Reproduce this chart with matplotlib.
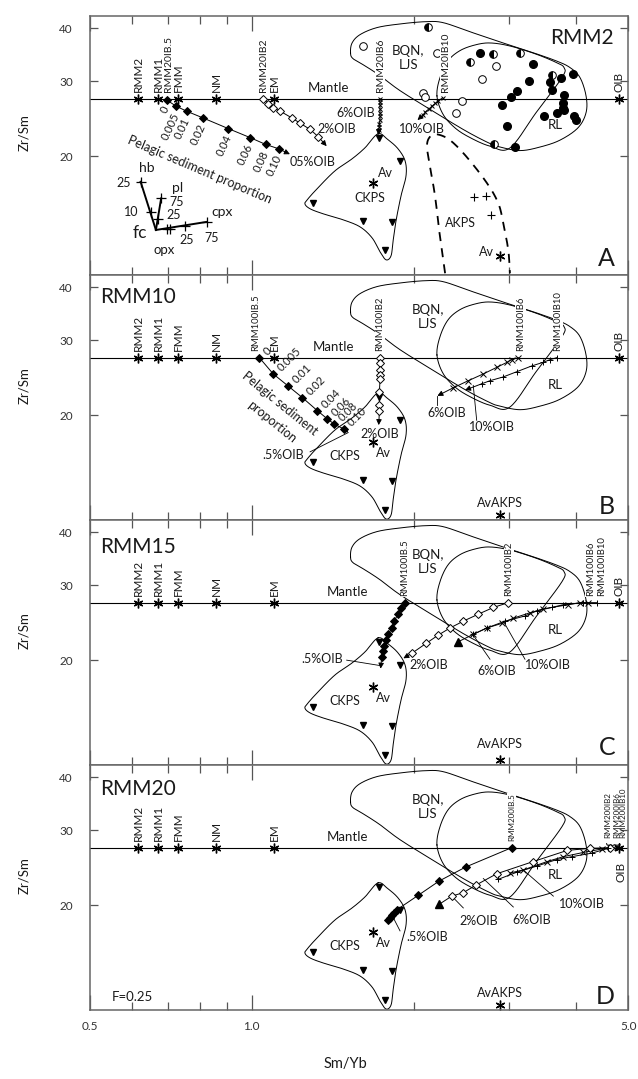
import matplotlib
matplotlib.use("Agg")
import numpy as np
import matplotlib.pyplot as plt
from matplotlib.ticker import FixedLocator, FixedFormatter, NullFormatter, NullLocator

plt.rcParams['font.family'] = ['Lato', 'DejaVu Sans']
INK = '#1a1a1a'

# ---------------- reference compositions ----------------
MANTLE_ZRSM = 27.3
mantle_names = ['RMM2', 'RMM1', 'FMM', 'NM', 'EM']
mantle_smyb = [0.615, 0.67, 0.73, 0.86, 1.10]
oib_smyb = 4.8

# ---------------- field outlines (Sm/Yb, Zr/Sm) ----------------
bqn_field_smyb = [1.525, 1.535, 1.588, 1.707, 1.884, 2.096, 2.263, 2.541, 2.888, 3.283, 3.669,
                  3.894, 4.064, 4.171, 4.171, 4.029, 3.732, 3.426, 3.146, 2.888, 2.767, 2.497,
                  2.169, 1.884, 1.730, 1.622, 1.541]
bqn_field_zrsm = [35.0, 36.9, 38.6, 40.1, 40.9, 41.4, 41.2, 39.2, 37.1, 35.2, 33.5,
                  32.3, 30.6, 27.7, 25.3, 23.3, 21.8, 21.0, 20.6, 21.0, 21.4, 22.9,
                  25.5, 28.5, 30.9, 32.6, 33.9]
rl_field_smyb = [2.206, 2.235, 2.313, 2.434, 2.595, 2.767, 3.013, 3.355, 3.653, 3.796, 3.764,
                 3.369, 3.013, 2.767, 2.541, 2.382, 2.263]
rl_field_zrsm = [27.7, 30.6, 33.5, 35.4, 36.5, 36.9, 36.3, 34.8, 33.3, 32.3, 30.6,
                 25.3, 20.9, 21.1, 22.1, 23.3, 25.1]
ckps_field_smyb = [1.715, 1.622, 1.535, 1.427, 1.327, 1.272, 1.255, 1.283, 1.356, 1.477, 1.588,
                   1.672, 1.730, 1.775, 1.813, 1.829, 1.852, 1.892, 1.933, 1.925, 1.868, 1.790]
ckps_field_zrsm = [22.56, 20.91, 19.70, 18.46, 16.84, 15.87, 15.44, 15.03, 14.63, 14.16, 13.63,
                   12.84, 11.90, 11.40, 11.65, 12.63, 14.08, 16.12, 17.97, 19.49, 20.80, 21.84]
akps_field_smyb = [2.284, 2.235, 2.188, 2.141, 2.114, 2.141, 2.206, 2.332, 2.505, 2.729, 2.866,
                   2.929, 2.992, 3.013]
akps_field_zrsm = [10.6, 12.9, 16.1, 18.9, 21.1, 22.2, 22.5, 21.8, 19.9, 17.3, 15.5,
                   13.9, 12.0, 10.6]

# ---------------- sample groups ----------------
ckps_smyb = [1.72, 1.88, 1.61, 1.82, 1.765, 1.30]
ckps_zrsm = [22.1, 19.5, 14.1, 14.0, 12.0, 15.5]
ckps_av_smyb, ckps_av_zrsm = 1.68, 17.25
akps_smyb = [2.58, 2.72, 2.775]
akps_zrsm = [16.0, 16.1, 14.5]
akps_av_smyb, akps_av_zrsm = 2.89, 11.65

rl_filled_smyb = [2.65, 3.32, 3.27, 3.10, 3.03, 2.91, 2.97, 3.08, 3.49, 3.57, 3.74, 3.94, 3.60,
                  3.80, 3.78, 3.78, 3.68, 3.80, 3.96, 4.00]
rl_filled_zrsm = [35.0, 33.0, 30.0, 28.4, 27.6, 26.4, 23.5, 21.0, 24.8, 29.8, 30.5, 31.2, 28.6,
                  27.9, 26.6, 25.9, 25.3, 25.7, 24.9, 24.3]
bqn_open_smyb = [1.61, 2.21, 2.84, 2.67, 2.08, 2.10, 2.45, 2.39]
bqn_open_zrsm = [36.3, 35.0, 32.6, 30.3, 28.2, 27.5, 27.0, 25.2]
half_smyb = [2.12, 2.54, 2.80, 3.15, 3.60, 2.81]
half_zrsm = [40.2, 33.2, 34.8, 34.9, 31.1, 21.3]

# ---------------- melting / mixing paths ----------------
sed_labels = ['0', '0.005', '0.01', '0.02', '0.04', '0.06', '0.08', '0.10']

# RMM2 panel
a_sed_smyb = [0.695, 0.724, 0.757, 0.811, 0.905, 0.993, 1.061, 1.122]
a_sed_zrsm = [27.1, 26.2, 25.5, 24.6, 23.2, 22.1, 21.3, 20.8]
a_sed_tip = (1.177, 20.2)
a_ib2_smyb = [1.051, 1.074, 1.094, 1.129, 1.186, 1.229, 1.283, 1.329]
a_ib2_zrsm = [27.3, 26.5, 26.0, 25.5, 24.6, 23.9, 23.1, 22.2]
a_ib2_tip = (1.377, 21.1)
a_ib6_smyb = [1.73, 1.73, 1.73, 1.73, 1.73, 1.73, 1.73, 1.725, 1.725, 1.72]
a_ib6_zrsm = [27.3, 26.8, 26.3, 25.8, 25.3, 24.8, 24.3, 23.8, 23.4, 23.0]
a_ib6_tip = (1.72, 22.4)
a_ib10_smyb = [2.26, 2.22, 2.19, 2.16, 2.13, 2.10, 2.08]
a_ib10_zrsm = [27.4, 27.0, 26.6, 26.2, 25.8, 25.4, 25.0]
a_ib10_tip = (2.03, 24.3)

# RMM10 panel
b_sed_smyb = [1.033, 1.096, 1.169, 1.241, 1.323, 1.381, 1.423, 1.483]
b_sed_zrsm = [27.3, 25.0, 23.4, 22.0, 20.5, 19.6, 19.05, 18.55]
b_sed_tip = (1.51, 18.2)
b_ib2_smyb = [1.73, 1.73, 1.73, 1.73, 1.73, 1.725, 1.725, 1.725]
b_ib2_zrsm = [27.3, 26.5, 25.6, 24.8, 24.3, 22.7, 21.1, 20.4]
b_ib2_tip = (1.72, 18.95)
b_ib6_smyb = [3.123, 3.036, 2.972, 2.847, 2.689, 2.522, 2.366]
b_ib6_zrsm = [27.3, 27.0, 26.6, 25.9, 25.0, 24.1, 23.2]
b_ib6_tip = (2.21, 22.2)
b_ib10_smyb = [3.680, 3.575, 3.466, 3.306, 3.102, 2.929, 2.767, 2.671]
b_ib10_zrsm = [27.3, 27.0, 26.6, 26.1, 25.3, 24.6, 24.1, 23.7]
b_ib10_tip = (2.487, 22.9)

# RMM15 panel
c_ib05_smyb = [1.925, 1.890, 1.866, 1.839, 1.819, 1.792, 1.775, 1.762, 1.750, 1.742]
c_ib05_zrsm = [27.3, 26.5, 25.65, 24.7, 23.8, 23.0, 22.3, 21.6, 21.05, 20.3]
c_ib05_tip = (1.734, 19.1)
c_ib2_smyb = [2.992, 2.807, 2.632, 2.469, 2.332, 2.218, 2.106, 1.981]
c_ib2_zrsm = [27.3, 26.6, 25.65, 24.7, 23.8, 22.9, 21.9, 20.75]
c_ib2_tip = (1.911, 20.2)
c_ib6_smyb = [4.211, 4.064, 3.866, 3.474, 3.283, 3.057, 2.909, 2.729, 2.576]
c_ib6_zrsm = [27.3, 27.3, 27.0, 26.4, 25.85, 25.1, 24.4, 23.8, 23.0]
c_ib6_end = (2.417, 22.1)
c_ib10_smyb = [4.365, 4.122, 3.784, 3.601, 3.378, 3.213, 2.951, 2.729, 2.576]
c_ib10_zrsm = [27.3, 27.3, 27.0, 26.6, 26.1, 25.4, 24.7, 23.8, 23.0]

# RMM20 panel
d_ib05_smyb = [3.036, 2.497, 2.228, 2.037, 1.858, 1.836, 1.820, 1.805, 1.790]
d_ib05_zrsm = [27.3, 24.6, 22.8, 21.1, 19.5, 19.2, 19.0, 18.7, 18.5]
d_ib2_smyb = [4.622, 4.243, 3.850, 3.321, 2.847, 2.607, 2.469, 2.350]
d_ib2_zrsm = [27.3, 27.2, 26.9, 25.3, 23.7, 22.3, 21.4, 21.0]
d_ib2_end = (2.228, 20.1)
d_ib6_smyb = [4.754, 4.459, 4.122, 3.784, 3.525, 3.189, 3.013]
d_ib6_zrsm = [27.4, 27.1, 26.6, 26.0, 25.3, 24.2, 23.8]
d_ib10_smyb = [4.587, 4.273, 3.923, 3.680, 3.378, 3.102, 2.866]
d_ib10_zrsm = [27.2, 26.5, 26.0, 25.6, 24.7, 23.9, 23.0]

# fractional-crystallisation vectors (RMM2 panel)
fc_origin = (0.664, 13.4)
fc_phases = ['hb', 'pl', 'cpx']
fc_end_smyb = [0.622, 0.679, 0.825]
fc_end_zrsm = [17.4, 15.9, 14.0]
fc_tick_smyb = [0.622, 0.650, 0.679, 0.669, 0.825, 0.752, 0.696, 0.704]
fc_tick_zrsm = [17.4, 14.8, 15.9, 14.2, 14.0, 13.7, 13.5, 13.5]


# ---------------- drawing helpers ----------------
def catmull(xs, ys, closed=True, n=18):
    P = np.column_stack([np.log10(xs), np.log10(ys)])
    if not closed:
        P = np.vstack([2 * P[0] - P[1], P, 2 * P[-1] - P[-2]])
    m = len(P)
    segs = []
    rng = range(m) if closed else range(1, m - 2)
    t = np.linspace(0, 1, n, endpoint=False)[:, None]
    for i in rng:
        p0, p1, p2, p3 = P[i - 1], P[i], P[(i + 1) % m], P[(i + 2) % m]
        segs.append(0.5 * (2 * p1 + (-p0 + p2) * t + (2 * p0 - 5 * p1 + 4 * p2 - p3) * t ** 2
                           + (-p0 + 3 * p1 - 3 * p2 + p3) * t ** 3))
    out = np.vstack(segs)
    last = P[0] if closed else P[-2]
    out = np.vstack([out, last])
    return 10 ** out[:, 0], 10 ** out[:, 1]


def arrow(ax, x0, y0, x1, y1, lw=0.7):
    ax.annotate('', xy=(x1, y1), xytext=(x0, y0),
                arrowprops=dict(arrowstyle='-|>', color='k', lw=lw, mutation_scale=8,
                                shrinkA=0, shrinkB=0))


def path(ax, xs, ys, marker, mfc='k', ms=4.5, tip=None, end_marker=None):
    lx, ly = list(xs), list(ys)
    if end_marker is not None:
        lx.append(end_marker[0]); ly.append(end_marker[1])
    ax.plot(lx, ly, '-', color='k', lw=0.7, zorder=4)
    ax.plot(xs, ys, ls='none', marker=marker, ms=ms, mfc=mfc, mec='k', mew=0.7, zorder=5)
    if tip is not None:
        arrow(ax, xs[-1], ys[-1], tip[0], tip[1])
    if end_marker is not None:
        ax.plot(*end_marker, marker='^', ms=6, color='k', zorder=5)


def txt(ax, x, y, s, size=9, **kw):
    kw.setdefault('ha', 'center')
    kw.setdefault('va', 'center')
    ax.text(x, y, s, fontsize=size, color=INK, **kw)


def vlabel(ax, x, s, size=8.5, off=4.5, bg=False, y=None):
    bbox = dict(fc='white', ec='none', pad=0.6) if bg else None
    ax.annotate(s, (x, MANTLE_ZRSM if y is None else y), xytext=(0, off),
                textcoords='offset points', rotation=90, ha='center', va='bottom',
                fontsize=size, color=INK, bbox=bbox, zorder=6)


def leader(ax, p, q):
    ax.plot([p[0], q[0]], [p[1], q[1]], color='k', lw=0.6, zorder=3)


def setup(ax, ylow, bottom):
    ax.set_xscale('log'); ax.set_yscale('log')
    ax.set_xlim(0.5, 5.0); ax.set_ylim(ylow, 42.7)
    ax.xaxis.set_major_locator(FixedLocator([0.5, 1.0, 5.0]))
    ax.xaxis.set_minor_locator(FixedLocator([0.6, 0.7, 0.8, 0.9, 2, 3, 4]))
    ax.xaxis.set_minor_formatter(NullFormatter())
    if bottom:
        ax.xaxis.set_major_formatter(FixedFormatter(['0.5', '1.0', '5.0']))
    else:
        ax.xaxis.set_major_formatter(NullFormatter())
    ax.yaxis.set_major_locator(FixedLocator([20, 30, 40]))
    ax.yaxis.set_major_formatter(FixedFormatter(['20', '30', '40']))
    ax.yaxis.set_minor_locator(NullLocator())
    ax.yaxis.set_minor_formatter(NullFormatter())
    ax.tick_params(which='both', direction='in', top=True, right=True, color='#555', width=0.9)
    ax.tick_params(axis='x', which='major', length=11, pad=8, labelsize=8.5, labelcolor='#333')
    ax.tick_params(axis='x', which='minor', length=6)
    ax.tick_params(axis='y', which='major', length=6, pad=12, labelsize=8.5, labelcolor='#333')
    for sp in ax.spines.values():
        sp.set_color('#666'); sp.set_linewidth(1.1)
    ax.set_ylabel('Zr/Sm', fontsize=9.5, color=INK)
    ax.yaxis.set_label_coords(-0.11, 0.55)


def common(ax, mantle_x=1.30, bqn_x=2.12):
    ax.axhline(MANTLE_ZRSM, color='k', lw=0.8, zorder=2)
    for fx, fy in ((bqn_field_smyb, bqn_field_zrsm), (rl_field_smyb, rl_field_zrsm),
                   (ckps_field_smyb, ckps_field_zrsm)):
        sx, sy = catmull(fx, fy)
        ax.plot(sx, sy, color='k', lw=0.7, zorder=2)
    ax.plot(ckps_smyb, ckps_zrsm, 'v', color='k', ms=5, zorder=5)
    ax.plot(ckps_av_smyb, ckps_av_zrsm, marker=(6, 2, 0), color='k', ms=7, mew=1.0, zorder=5)
    star = mantle_smyb + [oib_smyb]
    ax.plot(star, [MANTLE_ZRSM] * len(star), ls='none', marker=(6, 2, 0), color='k',
            ms=7, mew=1.0, zorder=6)
    for x, s in zip(mantle_smyb, mantle_names):
        vlabel(ax, x, s)
    ax.annotate('Mantle', (mantle_x, MANTLE_ZRSM), xytext=(0, 3), textcoords='offset points',
                ha='left', va='bottom', fontsize=9.5, color=INK)
    txt(ax, bqn_x, 34.1, 'BQN,\nLJS', size=9.5, linespacing=1.2)
    txt(ax, 3.65, 23.6, 'RL', size=9.5)


fig = plt.figure(figsize=(6.38, 10.79), dpi=100)
L, W = 0.1403, 0.8448
axA = fig.add_axes([L, 0.74513, W, 0.24004])
axB = fig.add_axes([L, 0.51807, W, 0.22706])
axC = fig.add_axes([L, 0.29101, W, 0.22706])
axD = fig.add_axes([L, 0.06395, W, 0.22706])

setup(axA, 10.5, False)
for ax in (axB, axC):
    setup(ax, 11.34, False)
setup(axD, 11.34, True)
axD.set_xlabel('Sm/Yb', fontsize=10.5, color=INK, labelpad=22)
axD.xaxis.set_label_coords(0.474, -0.19)

# ================= Panel A : RMM2 =================
ax = axA
common(ax, mantle_x=1.272, bqn_x=1.95)
ax.plot(rl_filled_smyb, rl_filled_zrsm, 'o', color='k', ms=5.5, zorder=5)
ax.plot(bqn_open_smyb, bqn_open_zrsm, 'o', mfc='white', mec='k', mew=0.7, ms=5.5, zorder=5)
ax.plot(half_smyb, half_zrsm, 'o', mfc='k', mfcalt='white', fillstyle='left', mec='k',
        mew=0.7, ms=5.5, zorder=5)
sx, sy = catmull(akps_field_smyb, akps_field_zrsm, closed=False)
ax.plot(sx, sy, color='k', lw=1.3, dashes=(5, 4), zorder=2)
ax.plot(akps_smyb, akps_zrsm, '+', color='k', ms=6, mew=0.8)
txt(ax, 2.434, 13.9, 'AKPS', size=9)
ax.plot(akps_av_smyb, akps_av_zrsm, marker=(6, 2, 0), color='k', ms=7, mew=1.0)
txt(ax, 2.73, 11.9, 'Av', size=9)
txt(ax, 1.657, 15.9, 'CKPS', size=9)
txt(ax, 1.767, 18.2, 'Av', size=9)

path(ax, a_sed_smyb, a_sed_zrsm, 'D', ms=4.5, tip=a_sed_tip)
path(ax, a_ib2_smyb, a_ib2_zrsm, 'D', mfc='white', ms=4.5, tip=a_ib2_tip)
path(ax, a_ib6_smyb, a_ib6_zrsm, 'x', ms=3.5, tip=a_ib6_tip)
path(ax, a_ib10_smyb, a_ib10_zrsm, 'x', ms=3.5, tip=a_ib10_tip)
for x, y, s in zip(a_sed_smyb, a_sed_zrsm, sed_labels):
    ax.annotate(s, (x, y), xytext=(0, -5), textcoords='offset points', rotation=65,
                rotation_mode='anchor', ha='right', va='center', fontsize=8, color=INK)
txt(ax, 0.801, 18.6, 'Pelagic sediment proportion', size=9, rotation=-23)
vlabel(ax, 0.70, 'RMM20IB.5', size=7.5)
vlabel(ax, 1.05, 'RMM20IB2', size=7.5)
vlabel(ax, 1.73, 'RMM20IB6', size=7.5, bg=True)
vlabel(ax, 2.29, 'RMM20IB10', size=7.5, bg=True)
vlabel(ax, oib_smyb, 'OIB', size=8.5)
txt(ax, 1.437, 25.2, '6%OIB', size=9, ha='left')
txt(ax, 1.326, 23.1, '2%OIB', size=9, ha='left')
txt(ax, 1.177, 19.4, '05%OIB', size=9, ha='left')
txt(ax, 2.067, 23.1, '10%OIB', size=9)

# crystallisation vectors
for x, y in zip(fc_end_smyb, fc_end_zrsm):
    ax.plot([fc_origin[0], x], [fc_origin[1], y], color='k', lw=1.4)
ax.plot(fc_tick_smyb, fc_tick_zrsm, '+', color='k', ms=7, mew=0.9)
txt(ax, 0.638, 18.7, 'hb', size=10)
txt(ax, 0.728, 16.8, 'pl', size=10)
txt(ax, 0.880, 14.8, 'cpx', size=10)
txt(ax, 0.620, 13.2, 'fc', size=12.5)
txt(ax, 0.687, 12.0, 'opx', size=9.5)
txt(ax, 0.578, 17.3, '25', size=9)
txt(ax, 0.598, 14.8, '10', size=9)
txt(ax, 0.724, 15.6, '75', size=9)
txt(ax, 0.715, 14.5, '25', size=9)
txt(ax, 0.756, 12.7, '25', size=9)
txt(ax, 0.843, 12.8, '75', size=9)

ax.text(0.972, 0.915, 'RMM2', transform=ax.transAxes, ha='right', va='center', fontsize=15, color=INK)
ax.text(0.975, 0.065, 'A', transform=ax.transAxes, ha='right', va='center', fontsize=18, color=INK)

# ================= Panel B : RMM10 =================
ax = axB
common(ax, mantle_x=1.30)
txt(ax, 1.49, 16.0, 'CKPS', size=9)
txt(ax, 1.754, 16.3, 'Av', size=9)
ax.plot(akps_av_smyb, akps_av_zrsm, marker=(6, 2, 0), color='k', ms=7, mew=1.0)
txt(ax, 2.89, 12.45, 'AvAKPS', size=9)
path(ax, b_sed_smyb, b_sed_zrsm, 'D', ms=4.5, tip=b_sed_tip)
path(ax, b_ib2_smyb, b_ib2_zrsm, 'D', mfc='white', ms=4.5, tip=b_ib2_tip)
path(ax, b_ib6_smyb, b_ib6_zrsm, 'x', ms=4, tip=b_ib6_tip)
path(ax, b_ib10_smyb, b_ib10_zrsm, '+', ms=5, tip=b_ib10_tip)
for x, y, s in zip(b_sed_smyb, b_sed_zrsm, sed_labels):
    ax.annotate(s, (x, y), xytext=(4, 3), textcoords='offset points', rotation=45,
                rotation_mode='anchor', ha='left', va='center', fontsize=8, color=INK)
txt(ax, 1.129, 21.3, 'Pelagic sediment', size=9, rotation=-39)
txt(ax, 1.089, 19.3, 'proportion', size=9, rotation=-39)
vlabel(ax, 1.015, 'RMM100IB.5', size=6.8)
vlabel(ax, 1.73, 'RMM100IB2', size=6.8, bg=True)
vlabel(ax, 3.15, 'RMM100IB6', size=6.8, bg=True)
vlabel(ax, 3.70, 'RMM100IB10', size=6.8, bg=True)
vlabel(ax, oib_smyb, 'OIB', size=8.5)
leader(ax, (1.283, 16.4), b_sed_tip)
txt(ax, 1.145, 16.1, '.5%OIB', size=9)
txt(ax, 1.73, 18.1, '2%OIB', size=9)
leader(ax, b_ib6_tip, (2.21, 21.1))
txt(ax, 2.30, 20.2, '6%OIB', size=9)
leader(ax, (2.576, 23.5), (2.614, 19.45))
txt(ax, 2.787, 18.8, '10%OIB', size=9)
ax.text(0.02, 0.91, 'RMM10', transform=ax.transAxes, ha='left', va='center', fontsize=15, color=INK)
ax.text(0.975, 0.055, 'B', transform=ax.transAxes, ha='right', va='center', fontsize=18, color=INK)

# ================= Panel C : RMM15 =================
ax = axC
common(ax, mantle_x=1.377)
txt(ax, 1.49, 16.0, 'CKPS', size=9)
txt(ax, 1.754, 16.3, 'Av', size=9)
ax.plot(akps_av_smyb, akps_av_zrsm, marker=(6, 2, 0), color='k', ms=7, mew=1.0)
txt(ax, 2.89, 12.7, 'AvAKPS', size=9)
path(ax, c_ib05_smyb, c_ib05_zrsm, 'D', ms=4.5, tip=c_ib05_tip)
path(ax, c_ib2_smyb, c_ib2_zrsm, 'D', mfc='white', ms=4.5, tip=c_ib2_tip)
path(ax, c_ib6_smyb, c_ib6_zrsm, 'x', ms=4, end_marker=c_ib6_end)
path(ax, c_ib10_smyb, c_ib10_zrsm, '+', ms=5)
vlabel(ax, 1.925, 'RMM100IB.5', size=6.8, bg=True)
vlabel(ax, 3.00, 'RMM100IB2', size=6.8, bg=True)
vlabel(ax, 4.25, 'RMM100IB6', size=6.8, bg=True)
vlabel(ax, 4.45, 'RMM100IB10', size=6.8, bg=True)
vlabel(ax, oib_smyb, 'OIB', size=8.5)
txt(ax, 1.353, 20.1, '.5%OIB', size=9)
leader(ax, (1.50, 20.0), (1.74, 19.4))
txt(ax, 1.96, 19.5, '2%OIB', size=9, ha='left')
leader(ax, (2.576, 22.9), (2.767, 20.1))
txt(ax, 2.847, 18.9, '6%OIB', size=9)
leader(ax, (2.929, 24.7), (3.213, 20.1))
txt(ax, 3.549, 19.5, '10%OIB', size=9)
ax.text(0.02, 0.89, 'RMM15', transform=ax.transAxes, ha='left', va='center', fontsize=15, color=INK)
ax.text(0.975, 0.07, 'C', transform=ax.transAxes, ha='right', va='center', fontsize=18, color=INK)

# ================= Panel D : RMM20 =================
ax = axD
common(ax, mantle_x=1.377)
txt(ax, 1.49, 16.0, 'CKPS', size=9)
txt(ax, 1.754, 16.3, 'Av', size=9)
ax.plot(akps_av_smyb, akps_av_zrsm, marker=(6, 2, 0), color='k', ms=7, mew=1.0)
txt(ax, 2.89, 12.45, 'AvAKPS', size=9)
path(ax, d_ib05_smyb, d_ib05_zrsm, 'D', ms=4.5)
path(ax, d_ib2_smyb, d_ib2_zrsm, 'D', mfc='white', ms=4.5, end_marker=d_ib2_end)
path(ax, d_ib6_smyb, d_ib6_zrsm, 'x', ms=4)
path(ax, d_ib10_smyb, d_ib10_zrsm, '+', ms=5)
vlabel(ax, 3.036, 'RMM200IB.5', size=5.8, bg=True)
vlabel(ax, 4.575, 'RMM200IB2', size=5.8, off=7)
vlabel(ax, 4.75, 'RMM200IB6', size=5.8, off=7)
vlabel(ax, 4.88, 'RMM200IB10', size=5.8, off=7)
ax.text(4.73, 27.9, '{', rotation=90, ha='center', va='center', fontsize=11, color=INK)
txt(ax, 4.84, 23.9, 'OIB', size=8.5, rotation=90)
leader(ax, (2.350, 21.0), (2.469, 19.7))
txt(ax, 2.632, 18.4, '2%OIB', size=9)
leader(ax, (2.689, 23.1), (3.057, 19.8))
txt(ax, 3.306, 18.5, '6%OIB', size=9)
leader(ax, (3.189, 24.2), (3.627, 21.0))
txt(ax, 4.094, 20.1, '10%OIB', size=9)
leader(ax, (1.884, 17.4), (1.83, 18.7))
txt(ax, 2.117, 16.8, '.5%OIB', size=9)
ax.text(0.02, 0.90, 'RMM20', transform=ax.transAxes, ha='left', va='center', fontsize=15, color=INK)
ax.text(0.975, 0.055, 'D', transform=ax.transAxes, ha='right', va='center', fontsize=18, color=INK)
ax.text(0.041, 0.055, 'F=0.25', transform=ax.transAxes, ha='left', va='center', fontsize=9.5, color=INK)

fig.savefig('out.png', dpi=100)
